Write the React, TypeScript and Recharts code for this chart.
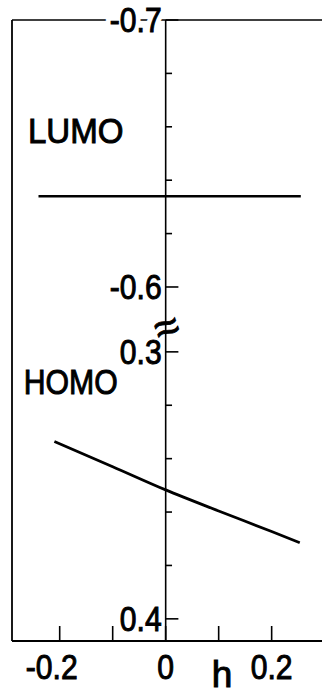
import React from 'react';
import { LineChart, Line, XAxis, YAxis, ReferenceLine, ReferenceDot } from 'recharts';

// ---- data ----
const hTicks = [-0.2, -0.1, 0, 0.1, 0.2];
const hTickLabels = ['-0.2', '', '0', '', '0.2'];

const lumoH = [-0.24, 0.255];
const lumoE = [-0.634, -0.634];

const homoH = [-0.21, -0.1, 0, 0.1, 0.2, 0.253];
const homoE = [0.3336, 0.343, 0.3517, 0.3596, 0.3673, 0.3715];

const upperTicks = [-0.7, -0.68, -0.66, -0.64, -0.62, -0.6];
const upperTickLabels = ['-0.7', '', '', '', '', '-0.6'];
const lowerTicks = [0.3, 0.32, 0.34, 0.36, 0.38, 0.4];
const lowerTickLabels = ['0.3', '', '', '', '', '0.4'];

// ---- broken energy axis mapping ----
const UPPER_TOP = -0.7;
const UPPER_END = -0.6;
const LOWER_START = 0.3;
const BREAK_GAP = 0.0243;
const BREAK_MARK = 0.115;
const AXIS_MAX = 0.2326;
const toUpper = (v: number) => v - UPPER_TOP;
const toLower = (v: number) => v - LOWER_START + (UPPER_END - UPPER_TOP) + BREAK_GAP;

const lumoData = lumoH.map((h, i) => ({ h, w: toUpper(lumoE[i]) }));
const homoData = homoH.map((h, i) => ({ h, w: toLower(homoE[i]) }));

const FONT = 'Liberation Sans, Arial, sans-serif';
const FS = 35;
const SX = 0.86;
const TXT_STROKE = 1.0;

const XTick = (props: any) => {
  const { x, y, payload } = props;
  const label = hTickLabels[hTicks.indexOf(payload.value)] || '';
  const neg = label.startsWith('-');
  return (
    <g>
      <line x1={x} x2={x} y1={y} y2={y - 15} stroke="#000" strokeWidth={1.6} />
      {label && (
        <text
          transform={`translate(${x + (neg ? -8 : 0)},${y + 38}) scale(${SX},1)`}
          textAnchor="middle"
          fontSize={FS}
          fontFamily={FONT}
          fill="#000"
          stroke="#000"
          strokeWidth={TXT_STROKE}
        >
          {label}
        </text>
      )}
    </g>
  );
};

const yLabel = (text: string, halo: boolean) => (props: any) => {
  const vb = props.viewBox;
  if (!text || !vb) return null;
  const tr = `translate(${vb.x - 4},${vb.y + FS * 0.35}) scale(${SX},1)`;
  return (
    <g>
      {halo && (
        <text transform={tr} textAnchor="end" fontSize={FS} fontFamily={FONT} fill="#fff" stroke="#fff" strokeWidth={12}>
          {text}
        </text>
      )}
      <text transform={tr} textAnchor="end" fontSize={FS} fontFamily={FONT} fill="#000" stroke="#000" strokeWidth={TXT_STROKE}>
        {text}
      </text>
    </g>
  );
};

const wordLabel = (text: string, sx: number) => (props: any) => {
  const vb = props.viewBox;
  if (!vb) return null;
  return (
    <text
      transform={`translate(${vb.x},${vb.y}) scale(${sx},1)`}
      textAnchor="start"
      fontSize={36}
      fontFamily={FONT}
      fill="#000"
      stroke="#000"
      strokeWidth={TXT_STROKE}
    >
      {text}
    </text>
  );
};

const breakLabel = (props: any) => {
  const vb = props.viewBox;
  if (!vb) return null;
  return (
    <text
      transform={`translate(${vb.x + 6},${vb.y + 14}) rotate(-20)`}
      textAnchor="middle"
      fontSize={44}
      fontFamily={FONT}
      fill="#000"
      stroke="#000"
      strokeWidth={0.8}
    >
      ≈
    </text>
  );
};

const SHORT = 0.012;
const LONG = 0.024;

export default function App() {
  const yTicks = [
    ...upperTicks.map((v, i) => ({ w: toUpper(v), label: upperTickLabels[i], halo: i === 0 })),
    ...lowerTicks.map((v, i) => ({ w: toLower(v), label: lowerTickLabels[i], halo: false })),
  ];
  return (
    <div style={{ position: 'absolute', left: 0, top: 0, background: '#fff' }}>
      <LineChart width={322} height={694} margin={{ top: 20, right: 0, bottom: 0, left: 11 }}>
        <XAxis
          dataKey="h"
          type="number"
          domain={[-0.29, 0.295]}
          ticks={hTicks}
          interval={0}
          allowDataOverflow
          height={53}
          tickSize={0}
          tickMargin={0}
          tickLine={false}
          axisLine={{ stroke: '#000', strokeWidth: 2 }}
          tick={<XTick />}
          label={{ value: 'h', position: 'insideBottom', dx: 55, dy: -2, fontSize: 37, fontFamily: FONT, fill: '#000', stroke: '#000', strokeWidth: TXT_STROKE }}
        />
        <YAxis
          type="number"
          domain={[0, AXIS_MAX]}
          reversed
          allowDataOverflow
          width={1}
          tick={false}
          tickLine={false}
          axisLine={{ stroke: '#000', strokeWidth: 1.8 }}
        />
        <ReferenceLine y={0} stroke="#000" strokeWidth={1.6} />
        <ReferenceLine x={0} stroke="#000" strokeWidth={1.6} />
        {yTicks.map((t, i) => (
          <ReferenceLine
            key={i}
            segment={[
              { x: 0, y: t.w },
              { x: t.label ? LONG : SHORT, y: t.w },
            ]}
            stroke="#000"
            strokeWidth={1.6}
            label={yLabel(t.label, t.halo)}
          />
        ))}
        <ReferenceDot x={0} y={BREAK_MARK} r={0} fill="none" stroke="none" label={breakLabel} />
        <ReferenceDot x={-0.26} y={toUpper(-0.6539)} r={0} fill="none" stroke="none" label={wordLabel('LUMO', 0.92)} />
        <ReferenceDot x={-0.268} y={toLower(0.3158)} r={0} fill="none" stroke="none" label={wordLabel('HOMO', 0.84)} />
        <Line data={lumoData} dataKey="w" stroke="#000" strokeWidth={2.6} dot={false} isAnimationActive={false} />
        <Line data={homoData} dataKey="w" type="monotone" stroke="#000" strokeWidth={2.8} dot={false} isAnimationActive={false} />
      </LineChart>
    </div>
  );
}
